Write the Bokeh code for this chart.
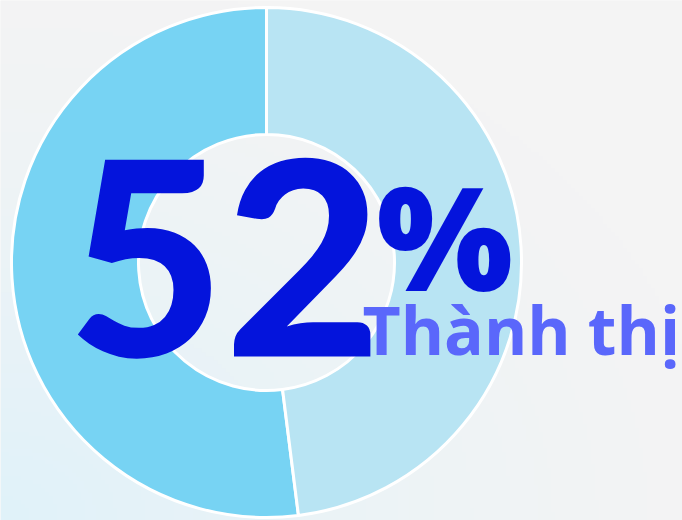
import numpy as np
from bokeh.plotting import figure
from bokeh.models import Range1d
from bokeh.core.properties import value
from bokeh.embed import file_html
from bokeh.resources import INLINE

# ---- data ----
categories = ["Thành thị", "Nông thôn"]
shares = [52, 48]
slice_colors = ["#77d3f3", "#b8e4f3"]
big_number = "52"
pct_sign = "%"
label_text = "Thành thị"

W, H = 682, 520
p = figure(width=W, height=H, output_backend="svg", toolbar_location=None,
           x_range=Range1d(0, W), y_range=Range1d(0, H),
           min_border=0, background_fill_color="#f4f4f4",
           border_fill_color="#f4f4f4")
p.axis.visible = False
p.grid.visible = False
p.outline_line_color = None

# subtle background tint (bottom-left, light cyan)
ny, nx = 130, 170
yy, xx = np.mgrid[0:ny, 0:nx]
d = np.sqrt((xx / nx) ** 2 + (yy / ny) ** 2)
t = np.clip(1 - d / 1.05, 0, 1) ** 1.3
base = np.array([244, 244, 244], float)
tint = np.array([224, 242, 250], float)
rgb = base[None, None, :] * (1 - t[..., None]) + tint[None, None, :] * t[..., None]
img = np.empty((ny, nx), dtype=np.uint32)
view = img.view(dtype=np.uint8).reshape((ny, nx, 4))
view[..., 0] = rgb[..., 0].astype(np.uint8)
view[..., 1] = rgb[..., 1].astype(np.uint8)
view[..., 2] = rgb[..., 2].astype(np.uint8)
view[..., 3] = 255
p.image_rgba(image=[img], x=0, y=0, dw=W, dh=H)

# donut
cx, cy = 266, 258
frac = np.array(shares, float) / sum(shares)
ends = np.pi / 2 + np.cumsum(frac) * 2 * np.pi
starts = np.concatenate([[np.pi / 2], ends[:-1]])
p.annular_wedge(x=cx, y=cy, inner_radius=128, outer_radius=255,
                start_angle=list(starts), end_angle=list(ends),
                fill_color=slice_colors, line_color="white", line_width=3)

# texts (baseline compensation for svg rendering)
K = 0.36
fs_big, fs_pct, fs_lab = 271, 144, 66
p.text(x=[67], y=[166 + K * fs_big], text=[big_number],
       text_font=value("'Lato Black', 'Inter Black', Inter"),
       text_font_style="bold", text_font_size=f"{fs_big}px", text_color="#0414dc",
       text_baseline="alphabetic", text_align="left")
p.text(x=[376], y=[234 + K * fs_pct], text=[pct_sign],
       text_font=value("'Open Sans ExtraBold', 'Open Sans'"),
       text_font_style="bold", text_font_size=f"{fs_pct}px", text_color="#0414dc",
       text_baseline="alphabetic", text_align="left")
p.text(x=[362], y=[168 + K * fs_lab], text=[label_text],
       text_font=value("Open Sans"),
       text_font_style="bold", text_font_size=f"{fs_lab}px", text_color="#5a67fb",
       text_baseline="alphabetic", text_align="left")

open("out.html", "w").write(file_html(p, INLINE))
